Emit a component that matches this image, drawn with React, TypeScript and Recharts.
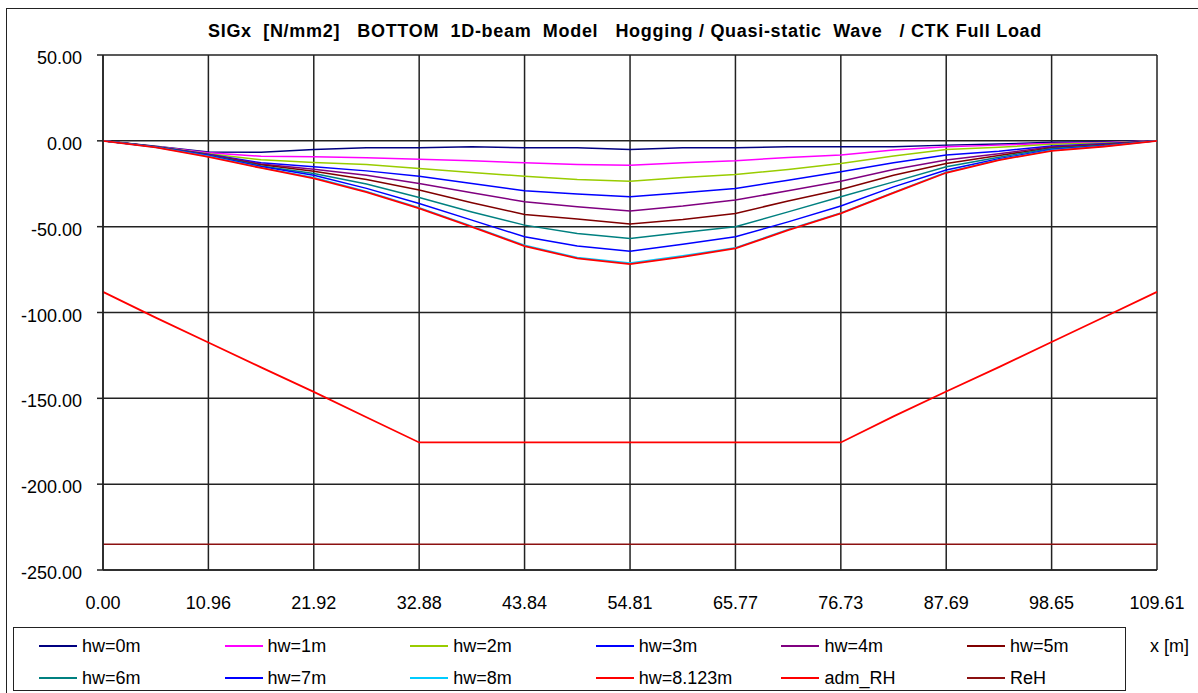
import React from 'react';
import { LineChart, Line, XAxis, YAxis, CartesianGrid } from 'recharts';

// stations along the beam [m]
const X_POS = [0, 5.48, 10.96, 16.44, 21.92, 27.40, 32.88, 38.36, 43.84, 49.32, 54.81, 60.29, 65.77, 71.25, 76.73, 82.21, 87.69, 93.17, 98.65, 104.13, 109.61];

const X_TICKS = [0, 10.96, 21.92, 32.88, 43.84, 54.81, 65.77, 76.73, 87.69, 98.65, 109.61];
const Y_TICKS = [-250, -200, -150, -100, -50, 0, 50];

// SIGx [N/mm2] per wave height
const HW0 = [0, -3.2, -6.5, -6.7, -5.0, -4.1, -4.1, -3.4, -4.1, -4.1, -5.0, -4.1, -4.1, -3.5, -3.5, -3.5, -2.5, -1.9, -0.8, -0.5, 0];
const HW1 = [0, -3.3, -7.0, -9.0, -9.3, -9.9, -10.7, -11.6, -12.8, -13.8, -14.2, -12.8, -11.6, -9.7, -8.3, -5.4, -3.5, -2.5, -1.5, -1.0, 0];
const HW2 = [0, -3.3, -7.5, -11.0, -12.6, -13.8, -16.1, -18.4, -20.6, -22.5, -23.5, -21.3, -19.6, -16.7, -13.2, -8.9, -5.0, -3.8, -2.0, -1.3, 0];
const HW3 = [0, -3.4, -7.8, -12.8, -15.1, -17.5, -20.6, -24.8, -29.1, -31.0, -32.6, -30.3, -27.7, -22.9, -18.0, -12.8, -8.3, -6.0, -3.0, -1.7, 0];
const HW4 = [0, -3.4, -8.0, -13.5, -16.5, -20.0, -24.8, -30.3, -35.5, -38.4, -40.8, -38.0, -34.5, -29.1, -23.5, -16.7, -11.2, -7.5, -3.5, -2.0, 0];
const HW5 = [0, -3.5, -8.2, -14.0, -17.7, -22.5, -28.7, -36.1, -42.9, -45.6, -48.5, -45.8, -42.3, -35.0, -28.3, -20.0, -13.2, -8.5, -4.0, -2.3, 0];
const HW6 = [0, -3.5, -8.4, -14.6, -19.0, -25.2, -33.0, -41.4, -49.1, -54.0, -56.9, -53.4, -50.1, -41.4, -32.6, -23.9, -15.1, -9.5, -4.5, -2.6, 0];
const HW7 = [0, -3.6, -8.6, -15.0, -20.0, -27.7, -36.5, -46.2, -55.9, -61.3, -64.3, -60.2, -55.9, -47.2, -38.0, -26.8, -17.0, -10.5, -5.0, -2.9, 0];
const HW8 = [0, -3.7, -8.9, -15.6, -21.3, -29.5, -39.0, -49.8, -60.8, -68.0, -71.2, -67.0, -62.3, -51.7, -42.0, -30.0, -18.3, -11.0, -5.5, -3.1, 0];
const HW8123 = [0, -3.8, -9.3, -15.8, -21.8, -29.9, -39.4, -50.1, -61.3, -68.5, -71.8, -67.6, -62.7, -52.0, -42.3, -30.3, -18.6, -11.2, -5.8, -3.3, 0];
const ADM_RH = [-88, -103, -117.5, -132, -146.2, -161, -175.7, -175.7, -175.7, -175.7, -175.7, -175.7, -175.7, -175.7, -175.7, -160.5, -146, -131.8, -117.2, -102.6, -88];
const REH = X_POS.map(() => -235);

const SERIES = [
  { key: 'hw0', label: 'hw=0m', color: '#000080', values: HW0 },
  { key: 'hw1', label: 'hw=1m', color: '#FF00FF', values: HW1 },
  { key: 'hw2', label: 'hw=2m', color: '#99CC00', values: HW2 },
  { key: 'hw3', label: 'hw=3m', color: '#0000FF', values: HW3 },
  { key: 'hw4', label: 'hw=4m', color: '#800080', values: HW4 },
  { key: 'hw5', label: 'hw=5m', color: '#800000', values: HW5 },
  { key: 'hw6', label: 'hw=6m', color: '#008080', values: HW6 },
  { key: 'hw7', label: 'hw=7m', color: '#0000FF', values: HW7 },
  { key: 'hw8', label: 'hw=8m', color: '#00CCFF', values: HW8 },
  { key: 'hw8123', label: 'hw=8.123m', color: '#FF0000', values: HW8123 },
  { key: 'adm', label: 'adm_RH', color: '#FF0000', values: ADM_RH },
  { key: 'reh', label: 'ReH', color: '#8B1010', values: REH },
];

const TITLE = 'SIGx  [N/mm2]   BOTTOM  1D-beam  Model   Hogging / Quasi-static  Wave   / CTK Full Load';
const FONT = 'Arial, "Liberation Sans", sans-serif';

const chartData = X_POS.map((x, i) => {
  const row: any = { x };
  SERIES.forEach((s) => { row[s.key] = s.values[i]; });
  return row;
});

function YTick({ x, y, payload }: any) {
  return (
    <text x={x} y={y} dy={9} textAnchor="end" fill="#000" fontSize={18} fontFamily={FONT}>
      {Number(payload.value).toFixed(2)}
    </text>
  );
}

function XTick({ x, y, payload }: any) {
  return (
    <text x={x} y={y} dy={37} textAnchor="middle" fill="#000" fontSize={18} fontFamily={FONT}>
      {Number(payload.value).toFixed(2)}
    </text>
  );
}

export default function App() {
  return (
    <div style={{ position: 'absolute', left: 0, top: 0, width: 1198, height: 693, background: '#fff', fontFamily: FONT, overflow: 'hidden' }}>
      <div style={{ position: 'absolute', left: 6, top: 8, width: 1192, height: 685, borderLeft: '1.5px solid #222', borderTop: '1.5px solid #222' }} />
      <div style={{ position: 'absolute', left: 0, top: 20, width: 1250, textAlign: 'center', fontWeight: 'bold', fontSize: 18, lineHeight: '22px', letterSpacing: 0.7, whiteSpace: 'pre', color: '#000' }}>
        {TITLE}
      </div>
      <div style={{ position: 'absolute', left: 0, top: 0 }}>
        <LineChart width={1198} height={693} data={chartData} margin={{ top: 55, right: 41, bottom: 93, left: 8 }}>
          <CartesianGrid stroke="#222" strokeWidth={1.5} />
          <XAxis
            type="number"
            dataKey="x"
            domain={[0, 109.61]}
            ticks={X_TICKS}
            interval={0}
            height={30}
            tickLine={false}
            tickSize={0}
            axisLine={{ stroke: '#222', strokeWidth: 1.5 }}
            tick={<XTick />}
          />
          <YAxis
            type="number"
            domain={[-250, 50]}
            ticks={Y_TICKS}
            interval={0}
            width={95}
            tickSize={6}
            tickMargin={15}
            tickLine={{ stroke: '#222', strokeWidth: 1.5 }}
            axisLine={{ stroke: '#222', strokeWidth: 1.5 }}
            tick={<YTick />}
          />
          {SERIES.map((s) => (
            <Line
              key={s.key}
              type="linear"
              dataKey={s.key}
              stroke={s.color}
              strokeWidth={s.key === 'hw8123' || s.key === 'adm' ? 1.8 : 1.5}
              dot={false}
              isAnimationActive={false}
            />
          ))}
        </LineChart>
      </div>
      <div style={{ position: 'absolute', left: 13, top: 627, width: 1113, height: 64, border: '1.5px solid #222', boxSizing: 'border-box' }} />
      {SERIES.map((s, i) => {
        const col = i % 6;
        const row = Math.floor(i / 6);
        const left = 39 + col * 185.6;
        const cy = 646 + row * 32;
        return (
          <div key={s.key}>
            <div style={{ position: 'absolute', left, top: cy - 1, width: 38, height: 2, background: s.color }} />
            <div style={{ position: 'absolute', left: left + 43, top: cy - 11, fontSize: 18, lineHeight: '22px', color: '#000', whiteSpace: 'pre' }}>
              {s.label}
            </div>
          </div>
        );
      })}
      <div style={{ position: 'absolute', left: 1150, top: 635, fontSize: 18, lineHeight: '22px', color: '#000' }}>x [m]</div>
    </div>
  );
}
